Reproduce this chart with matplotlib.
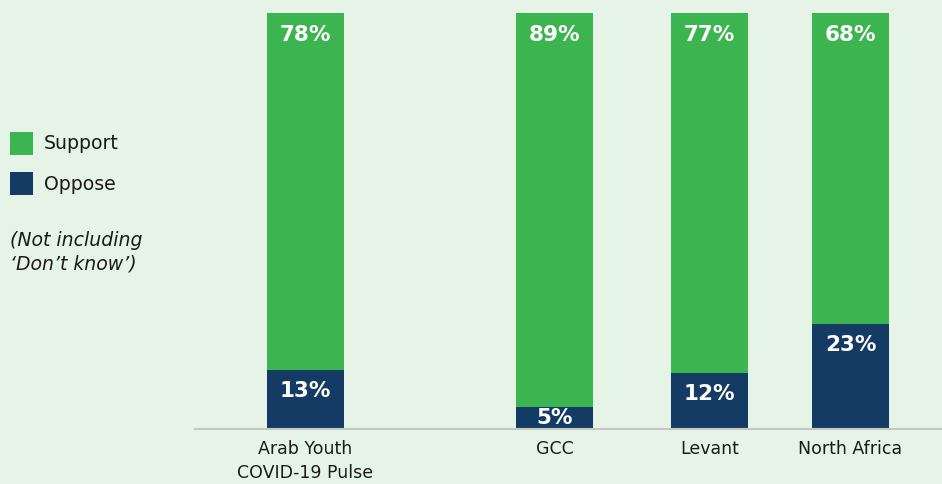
import matplotlib
matplotlib.use("Agg")
import matplotlib.pyplot as plt
from matplotlib.patches import Rectangle

categories = ["Arab Youth\nCOVID-19 Pulse", "GCC", "Levant", "North Africa"]
support = [78, 89, 77, 68]
oppose = [13, 5, 12, 23]

BG = "#e6f4e8"
GREEN = "#3cb550"
NAVY = "#133b63"
FONT = "DejaVu Sans"

W, H = 942, 484
fig = plt.figure(figsize=(W / 100, H / 100), dpi=100, facecolor=BG)

# plot area in pixel coordinates of the canvas
ax_left, ax_right, ax_bottom, ax_top = 195, 942, 429, 13
ax = fig.add_axes([ax_left / W, 1 - ax_bottom / H,
                   (ax_right - ax_left) / W, (ax_bottom - ax_top) / H])
ax.set_facecolor(BG)

# bar centres in axis units (0..1 across the plot area)
xpos = [(305.5 - ax_left) / (ax_right - ax_left),
        (554.5 - ax_left) / (ax_right - ax_left),
        (709.5 - ax_left) / (ax_right - ax_left),
        (850.5 - ax_left) / (ax_right - ax_left)]
bar_w = 77 / (ax_right - ax_left)

# shares normalised to support + oppose
opp_share = [o / (s + o) for s, o in zip(support, oppose)]
sup_share = [s / (s + o) for s, o in zip(support, oppose)]

ax.bar(xpos, opp_share, width=bar_w, color=NAVY, linewidth=0)
ax.bar(xpos, sup_share, width=bar_w, bottom=opp_share, color=GREEN, linewidth=0)

ax.set_xlim(0, 1)
ax.set_ylim(0, 1)

plot_h_px = ax_bottom - ax_top
px = 1 / plot_h_px  # one pixel in data units

for x, s, o, os_ in zip(xpos, support, oppose, opp_share):
    ax.text(x, 1 - 22 * px, f"{s}%", ha="center", va="center", color="white",
            fontsize=15.5, fontweight="bold", family=FONT)
    seg_px = os_ * plot_h_px
    if seg_px < 40:
        ty = os_ / 2
    else:
        ty = os_ - 21 * px
    ax.text(x, ty, f"{o}%", ha="center", va="center", color="white",
            fontsize=15.5, fontweight="bold", family=FONT)

for sp in ["top", "right", "left"]:
    ax.spines[sp].set_visible(False)
ax.spines["bottom"].set_color("#c4c8c4")
ax.spines["bottom"].set_linewidth(1.5)
ax.set_yticks([])
ax.set_xticks(xpos)
ax.set_xticklabels(categories, fontsize=12.5, family=FONT, color="#1a1a1a",
                   linespacing=1.45)
ax.tick_params(axis="x", length=0, pad=8)

# legend
fig.patches.append(Rectangle((10 / W, 1 - 155 / H), 23 / W, 23 / H,
                             transform=fig.transFigure, color=GREEN, linewidth=0))
fig.patches.append(Rectangle((10 / W, 1 - 195 / H), 23 / W, 23 / H,
                             transform=fig.transFigure, color=NAVY, linewidth=0))
fig.text(44 / W, 1 - 143.5 / H, "Support", fontsize=13.6, family=FONT,
         color="#1a1a1a", va="center", ha="left")
fig.text(44 / W, 1 - 184 / H, "Oppose", fontsize=13.6, family=FONT,
         color="#1a1a1a", va="center", ha="left")
fig.text(10 / W, 1 - 240 / H, "(Not including", fontsize=13.6, family=FONT,
         style="italic", color="#1a1a1a", va="center", ha="left")
fig.text(10 / W, 1 - 264 / H, "\u2018Don\u2019t know\u2019)", fontsize=13.6, family=FONT,
         style="italic", color="#1a1a1a", va="center", ha="left")

fig.savefig("out.png", dpi=100, facecolor=BG)
